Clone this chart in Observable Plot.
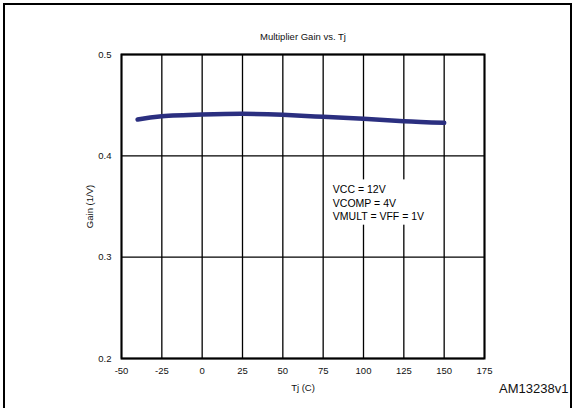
<!DOCTYPE html>
<html><head><meta charset="utf-8">
<script src="https://cdn.jsdelivr.net/npm/d3@7"></script>
<script src="https://cdn.jsdelivr.net/npm/@observablehq/plot@0.6"></script>
<style>
html,body{margin:0;padding:0;background:#fff;overflow:hidden;}
#wrap{position:relative;width:575px;height:408px;}
#border{position:absolute;left:3px;top:3px;width:569px;height:420px;border:2.5px solid #000;box-sizing:border-box;pointer-events:none;}
</style></head><body><div id="wrap"></div>
<script>
const tj = [-40, -25, 0, 25, 50, 75, 100, 125, 150];
const gain = [0.4358, 0.4391, 0.4408, 0.4415, 0.4405, 0.4385, 0.4365, 0.4342, 0.4326];
const xTicks = [-50, -25, 0, 25, 50, 75, 100, 125, 150, 175];
const yTicks = [0.2, 0.3, 0.4, 0.5];
const noteLines = ["VCC = 12V", "VCOMP = 4V", "VMULT = VFF = 1V"];
const notePos = [81, 0.373];
const title = "Multiplier Gain vs. Tj";
const code = "AM13238v1";

const data = tj.map((t, i) => ({t, g: gain[i]}));
const font = "'Liberation Sans', Arial, Helvetica, sans-serif";

const chart = Plot.plot({
  width: 575, height: 408,
  marginLeft: 121, marginRight: 91, marginTop: 54, marginBottom: 50,
  style: {fontFamily: font, fontSize: "9.5px", color: "#111", background: "transparent"},
  x: {domain: [-50, 175]},
  y: {domain: [0.2, 0.5]},
  marks: [
    Plot.gridX(xTicks, {stroke: "#000", strokeOpacity: 1, strokeWidth: 1.3}),
    Plot.gridY(yTicks, {stroke: "#000", strokeOpacity: 1, strokeWidth: 1.3}),
    Plot.frame({stroke: "#000", strokeWidth: 2}),
    Plot.line(data, {x: "t", y: "g", stroke: "#2b2f80", strokeWidth: 4.5, curve: "natural"}),
    Plot.text([noteLines.join("\n")], {x: [notePos[0]], y: [notePos[1]], text: d => d, textAnchor: "start", lineAnchor: "top", lineHeight: 1.3, fontSize: 10.5, fill: "#000", className: "note"}),
    Plot.axisX(xTicks, {tickSize: 0, tickPadding: 9, tickFormat: d => String(d), label: "Tj (C)", labelAnchor: "center", labelArrow: "none", labelOffset: 32}),
    Plot.axisY(yTicks, {tickSize: 0, tickPadding: 10, tickFormat: d3.format(".1f"), label: "Gain (1/V)", labelAnchor: "center", labelArrow: "none", labelOffset: 35}),
    Plot.text([title], {frameAnchor: "top", dy: -21, text: d => d, fontSize: 9.5, fill: "#111"}),
    Plot.text([code], {frameAnchor: "bottom-right", dx: 84, dy: 34, textAnchor: "end", text: d => d, fontSize: 13, fill: "#111"})
  ]
});
const wrap = document.getElementById("wrap");
wrap.appendChild(chart);
// white background box behind the annotation
const g = chart.querySelector("g.note") || chart.querySelector(".note");
if (g) {
  const bb = g.getBBox();
  const padX = 8, padY = 3;
  const r = document.createElementNS("http://www.w3.org/2000/svg", "rect");
  r.setAttribute("x", bb.x - padX);
  r.setAttribute("y", bb.y - padY);
  r.setAttribute("width", bb.width + 2 * padX);
  r.setAttribute("height", bb.height + 2 * padY);
  r.setAttribute("fill", "#fff");
  g.parentNode.insertBefore(r, g);
}
const b = document.createElement("div");
b.id = "border";
wrap.appendChild(b);
</script>
</body></html>
